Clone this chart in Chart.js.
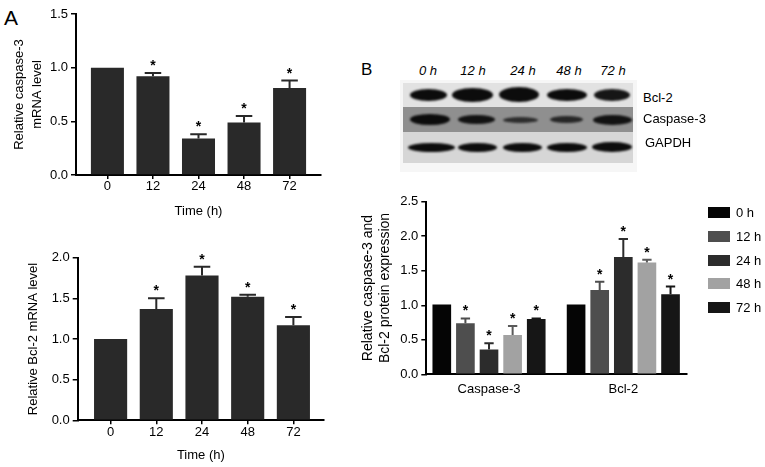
<!DOCTYPE html>
<html>
<head>
<meta charset="utf-8">
<script src="https://cdn.jsdelivr.net/npm/chart.js@4.4.0/dist/chart.umd.min.js"></script>
<style>
  body { margin: 0; background: #fff; font-family: "Liberation Sans", Arial, sans-serif; color: #000; }
  #page { position: relative; width: 765px; height: 467px; overflow: hidden; }
  canvas { position: absolute; }
  .panel { position: absolute; }
  .lane { position: absolute; font-size: 13px; line-height: 16px; font-style: italic; transform: translateX(-50%); white-space: nowrap; }
  .strip { position: absolute; }
  .band { position: absolute; background: #0c0c0c; border-radius: 50%; filter: blur(1.3px); }
  .blabel { position: absolute; font-size: 13px; line-height: 16px; }
  .leg { position: absolute; font-size: 13px; line-height: 11px; height: 11px; padding-left: 28px; white-space: nowrap; }
  .leg i { position: absolute; left: 0; top: 0; width: 22px; height: 11px; }
</style>
</head>
<body>
<div id="page">
  <div class="panel" style="left:4px; top:7px; font-size:21px; line-height:21px;">A</div>
  <div class="panel" style="left:361px; top:61px; font-size:17px; line-height:17px;">B</div>

  <canvas id="casp3Chart" width="345" height="222" style="left:0; top:0;"></canvas>
  <canvas id="bcl2Chart" width="345" height="245" style="left:0; top:222px;"></canvas>
  <canvas id="proteinChart" width="345" height="230" style="left:350px; top:185px;"></canvas>

  <div id="blot"></div>
  <div id="legend"></div>
</div>

<script>
// ---- data ----
const timeLabels = ["0", "12", "24", "48", "72"];

const casp3Mrna = [1.0, 0.92, 0.34, 0.49, 0.81];
const casp3MrnaSem = [0, 0.03, 0.04, 0.06, 0.07];
const casp3MrnaSig = [false, true, true, true, true];

const bcl2Mrna = [1.0, 1.37, 1.78, 1.52, 1.17];
const bcl2MrnaSem = [0, 0.13, 0.11, 0.025, 0.10];
const bcl2MrnaSig = [false, true, true, true, true];

const proteinGroups = ["Caspase-3", "Bcl-2"];
const hourLabels = ["0 h", "12 h", "24 h", "48 h", "72 h"];
const casp3Protein = [1.01, 0.74, 0.36, 0.57, 0.80];
const casp3ProteinSem = [0, 0.07, 0.09, 0.13, 0.01];
const bcl2Protein = [1.01, 1.22, 1.70, 1.62, 1.16];
const bcl2ProteinSem = [0, 0.12, 0.26, 0.04, 0.11];
const proteinSig = [false, true, true, true, true];

const blotLanes = ["0 h", "12 h", "24 h", "48 h", "72 h"];
const blotRows = ["Bcl-2", "Caspase-3", "GAPDH"];

// ---- styles ----
const hourColors = ["#050505", "#4e4e4e", "#2c2c2c", "#a2a2a2", "#161616"];
const barGray = "#292929";

Chart.defaults.font.family = '"Liberation Sans", Arial, sans-serif';
Chart.defaults.color = "#000";

// upper error bar + asterisk drawn with the chart's own y scale
const errorBars = {
    id: "errorBars",
    afterDatasetsDraw(chart) {
        const ctx = chart.ctx;
        const yScale = chart.scales.y;
        chart.data.datasets.forEach((ds, di) => {
            const meta = chart.getDatasetMeta(di);
            meta.data.forEach((bar, i) => {
                const sem = ds.sem[i];
                const top = yScale.getPixelForValue(ds.data[i].y + sem);
                ctx.save();
                if (sem > 0) {
                    ctx.strokeStyle = ds.errColor || ds.backgroundColor;
                    ctx.lineWidth = 2;
                    ctx.beginPath();
                    ctx.moveTo(bar.x, bar.y);
                    ctx.lineTo(bar.x, top);
                    ctx.moveTo(bar.x - bar.width * 0.25, top);
                    ctx.lineTo(bar.x + bar.width * 0.25, top);
                    ctx.stroke();
                }
                if (ds.sig[i]) {
                    ctx.fillStyle = "#000";
                    ctx.font = 'bold 14px "Liberation Sans", Arial, sans-serif';
                    ctx.textAlign = "center";
                    ctx.textBaseline = "alphabetic";
                    ctx.fillText("*", bar.x, top - 3);
                }
                ctx.restore();
            });
        });
    }
};

function yAxis(max, title, opts) {
    return {
        min: 0,
        max: max,
        ticks: { stepSize: 0.5, callback: v => v.toFixed(1), font: { size: 13 }, padding: 3 },
        grid: { drawOnChartArea: false, drawTicks: true, tickLength: 5, color: "#000", lineWidth: 1.5 },
        border: { display: true, color: "#000", width: 2 },
        title: { display: true, text: title, font: { size: opts.titleSize, lineHeight: opts.lineHeight }, padding: { top: opts.titlePad, bottom: 0 } },
        afterFit: s => { s.width = opts.width; }
    };
}

function xAxis(labels, min, max, opts) {
    return {
        type: "linear",
        min: min,
        max: max,
        offset: false,
        afterBuildTicks: s => { s.ticks = labels.map((_, i) => ({ value: i })); },
        ticks: { autoSkip: false, maxRotation: 0, callback: v => labels[v], font: { size: 13 }, padding: opts.padding },
        grid: { offset: false, drawOnChartArea: false, drawTicks: opts.drawTicks, tickLength: 4, color: "#000", lineWidth: 1.5 },
        border: { display: true, color: "#000", width: 2 },
        title: { display: !!opts.title, text: opts.title, font: { size: 13 }, padding: 0 },
        afterFit: s => { s.height = opts.height; }
    };
}

function mrnaChart(id, values, sem, sig, layout) {
    new Chart(document.getElementById(id), {
        type: "bar",
        data: {
            datasets: [{
                data: values.map((v, i) => ({ x: i, y: v })),
                backgroundColor: barGray,
                barPercentage: 0.725,
                categoryPercentage: 1,
                sem: sem,
                sig: sig
            }]
        },
        options: {
            responsive: false,
            animation: false,
            layout: { padding: layout.padding },
            plugins: { legend: { display: false }, tooltip: { enabled: false } },
            scales: {
                x: xAxis(timeLabels, layout.xmin, layout.xmax, { padding: 0, drawTicks: true, title: "Time (h)", height: layout.xHeight }),
                y: yAxis(layout.ymax, layout.yTitle, layout.yOpts)
            }
        },
        plugins: [errorBars]
    });
}

mrnaChart("casp3Chart", casp3Mrna, casp3MrnaSem, casp3MrnaSig, {
    padding: { left: 4, right: 24, top: 14, bottom: 3.2 },
    xmin: -0.69, xmax: 4.69, xHeight: 43.8,
    ymax: 1.5,
    yTitle: ["Relative caspase-3", "mRNA level"],
    yOpts: { width: 72, titleSize: 13, lineHeight: 1.4, titlePad: 6 }
});

mrnaChart("bcl2Chart", bcl2Mrna, bcl2MrnaSem, bcl2MrnaSig, {
    padding: { left: 4, right: 21, top: 35.7, bottom: 4.2 },
    xmin: -0.72, xmax: 4.67, xHeight: 42.5,
    ymax: 2.0,
    yTitle: "Relative Bcl-2 mRNA level",
    yOpts: { width: 73.7, titleSize: 13, lineHeight: 1.2, titlePad: 22 }
});

new Chart(document.getElementById("proteinChart"), {
    type: "bar",
    data: {
        datasets: hourLabels.map((h, k) => ({
            label: h,
            data: [{ x: 0, y: casp3Protein[k] }, { x: 1, y: bcl2Protein[k] }],
            backgroundColor: hourColors[k],
            errColor: k === 3 ? "#5a5a5a" : hourColors[k],
            barPercentage: 0.79,
            categoryPercentage: 0.879,
            sem: [casp3ProteinSem[k], bcl2ProteinSem[k]],
            sig: [proteinSig[k], proteinSig[k]]
        }))
    },
    options: {
        responsive: false,
        animation: false,
        layout: { padding: { left: 4, right: 8.3, top: 16.7, bottom: 10.7 } },
        plugins: { legend: { display: false }, tooltip: { enabled: false } },
        scales: {
            x: xAxis(proteinGroups, -0.467, 1.472, { padding: 7, drawTicks: false, title: "", height: 30 }),
            y: yAxis(2.5, ["Relative caspase-3 and", "Bcl-2 protein expression"], { width: 72.3, titleSize: 14, lineHeight: 1.25, titlePad: 5 })
        }
    },
    plugins: [errorBars]
});

// ---- legend for panel B ----
const legend = document.getElementById("legend");
hourLabels.forEach((h, k) => {
    const d = document.createElement("div");
    d.className = "leg";
    d.style.left = "708px";
    d.style.top = (207 + k * 23.75) + "px";
    d.innerHTML = `<i style="background:${hourColors[k]}"></i>${h}`;
    legend.appendChild(d);
});

// ---- western blot picture ----
const blot = document.getElementById("blot");
function addDiv(cls, css, text) {
    const d = document.createElement("div");
    d.className = cls;
    d.style.cssText = css;
    if (text) d.textContent = text;
    blot.appendChild(d);
}
addDiv("strip", "left:400px; top:80px; width:237px; height:92px; background:#f6f6f6;");
addDiv("strip", "left:403px; top:83px; width:230px; height:24px; background:#e2e2e2;");
addDiv("strip", "left:403px; top:107px; width:230px; height:25px; background:#8f8f8f;");
addDiv("strip", "left:403px; top:132px; width:230px; height:31px; background:#d6d6d6;");

const laneX = [428, 473, 523, 569, 613];
blotLanes.forEach((t, i) => addDiv("lane", `left:${laneX[i]}px; top:63px;`, t));

// [left, right, height, opacity] per band, per row
const bands = [
    { cy: 94.5, b: [[410, 447, 12, 1], [452, 493, 14, 1], [499, 539, 15, 1], [547, 587, 12, 1], [594, 630, 12, 0.95]] },
    { cy: 119.5, b: [[410, 450, 11, 1], [458, 495, 9, 0.95], [503, 538, 6, 0.75], [550, 583, 7, 0.8], [593, 632, 10, 0.95]] },
    { cy: 147, b: [[408, 455, 9, 1], [458, 497, 9, 1], [503, 542, 9, 1], [547, 587, 9, 1], [592, 632, 10, 1]] }
];
bands.forEach(row => row.b.forEach(([l, r, h, o]) => {
    addDiv("band", `left:${l}px; top:${row.cy - h / 2}px; width:${r - l}px; height:${h}px; opacity:${o};`);
}));

const rowLabelPos = [[643, 90], [643, 111], [645, 135]];
blotRows.forEach((t, i) => addDiv("blabel", `left:${rowLabelPos[i][0]}px; top:${rowLabelPos[i][1]}px;`, t));
</script>
</body>
</html>
